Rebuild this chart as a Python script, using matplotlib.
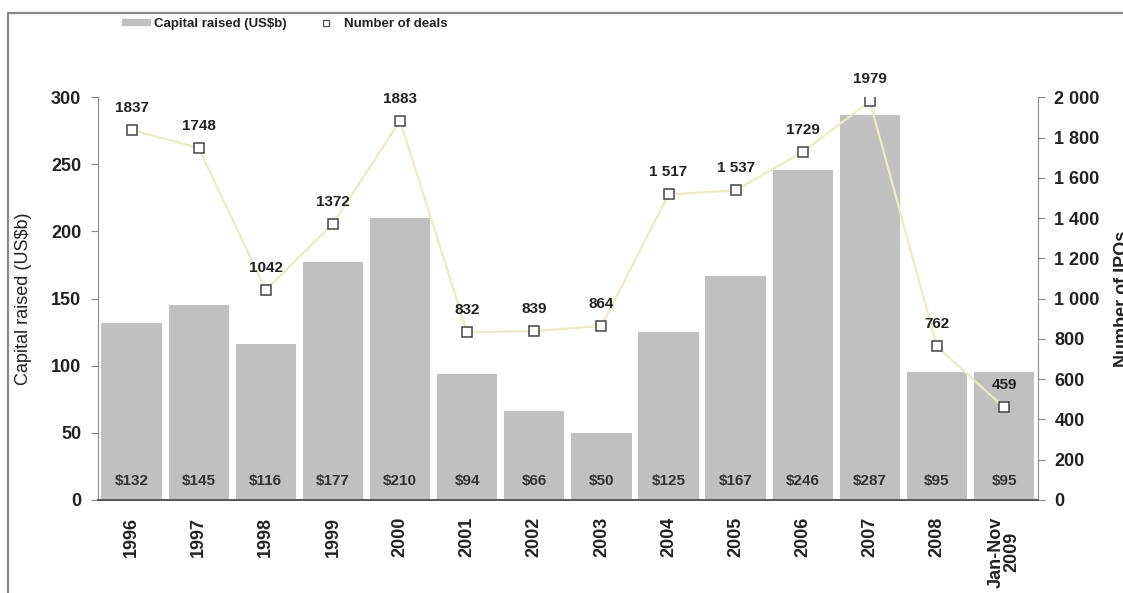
import matplotlib.pyplot as plt
from matplotlib.patches import Rectangle
from matplotlib.ticker import FuncFormatter

plt.rcParams['font.family'] = ['Liberation Sans', 'DejaVu Sans']

years = ["1996", "1997", "1998", "1999", "2000", "2001", "2002", "2003",
         "2004", "2005", "2006", "2007", "2008", "Jan-Nov\n2009"]
capital = [132, 145, 116, 177, 210, 94, 66, 50, 125, 167, 246, 287, 95, 95]
deals = [1837, 1748, 1042, 1372, 1883, 832, 839, 864, 1517, 1537, 1729, 1979, 762, 459]
deal_labels = ["1837", "1748", "1042", "1372", "1883", "832", "839", "864",
               "1 517", "1 537", "1729", "1979", "762", "459"]

bar_color = "#c0c0c0"
line_color = "#ecebc4"
text_color = "#222222"
axis_color = "#8c8c8c"

fig = plt.figure(figsize=(11.23, 5.93), dpi=100)
ax = fig.add_axes([0.0873, 0.157, 0.8367, 0.679])
ax2 = ax.twinx()

x = range(len(years))
ax.bar(x, capital, width=0.9, color=bar_color, zorder=1)
for i, v in enumerate(capital):
    ax.text(i, 14, f"${v}", ha="center", va="center", fontsize=11,
            fontweight="bold", color="#333333")

ax2.plot(x, deals, color=line_color, lw=1.6, zorder=2)
ax2.plot(x, deals, ls="none", marker="s", ms=7, mfc="white",
         mec="#444444", mew=1.1, zorder=3)
for i, (v, lab) in enumerate(zip(deals, deal_labels)):
    ax2.text(i, v + 110, lab, ha="center", va="center", fontsize=11,
             fontweight="bold", color=text_color)

ax.set_xlim(-0.5, len(years) - 0.5)
ax.set_ylim(0, 300)
ax2.set_ylim(0, 2000)
ax.set_yticks(range(0, 301, 50))
ax2.set_yticks(range(0, 2001, 200))
ax2.yaxis.set_major_formatter(FuncFormatter(lambda v, p: f"{int(v):,}".replace(",", " ")))

ax.set_xticks(list(x))
ax.set_xticklabels(years, rotation=90, fontsize=13, fontweight="bold",
                   color=text_color, linespacing=0.9)
ax.tick_params(axis="x", length=0, pad=12)
for a in (ax, ax2):
    a.tick_params(axis="y", labelsize=13, colors=axis_color, length=5,
                  width=0.8, pad=7)
    for lab in a.get_yticklabels():
        lab.set_fontweight("bold")
        lab.set_color(text_color)
    a.spines["top"].set_visible(False)
    a.spines["left"].set_color(axis_color)
    a.spines["right"].set_color(axis_color)
    a.spines["bottom"].set_color("#555555")
    a.spines["bottom"].set_linewidth(1.2)
ax2.spines["left"].set_visible(False)
ax.spines["right"].set_visible(False)

ax.set_ylabel("Capital raised (US$b)", fontsize=13, color=text_color, labelpad=14)
ax2.set_ylabel("Number of IPOs", fontsize=13, fontweight="bold",
               color=text_color, labelpad=10)

# legend at the top
bar_handle = Rectangle((0, 0), 1, 1, color=bar_color)
mark_handle = plt.Line2D([], [], ls="none", marker="s", ms=5, mfc="white",
                         mec="#555555", mew=0.9)
leg = fig.legend([bar_handle, mark_handle],
                 ["Capital raised (US$b)", "Number of deals"],
                 loc="upper left", bbox_to_anchor=(0.098, 0.99), ncol=2,
                 frameon=False, fontsize=9.5, handlelength=2.1, handleheight=0.35,
                 columnspacing=2.0, handletextpad=0.3)
for t in leg.get_texts():
    t.set_fontweight("bold")
    t.set_color(text_color)

# outer frame (cut off at right and bottom)
fig.add_artist(Rectangle((8 / 1123, -0.2), 1.2, 1.2 - 13 / 593,
                         transform=fig.transFigure, fill=False,
                         ec="#8a8a8a", lw=1.6, clip_on=False))

fig.savefig("out.png", dpi=100)
